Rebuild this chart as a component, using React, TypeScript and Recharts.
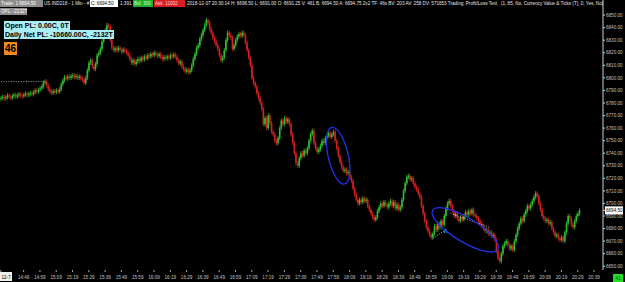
import React from 'react';
import { ComposedChart, Bar, XAxis, YAxis, ReferenceLine, ReferenceDot } from 'recharts';

// 1 min bars, 14:35 -> 20:30, open of each bar = previous close
const firstOpen = 6783.5;
const close1435 = [
  6784, 6785, 6783.5, 6784.5, 6786, 6785, 6784, 6785.5, 6786.5, 6785, 6786, 6787, 6786,
  6785.5, 6786.5, 6787.5, 6786.5, 6787, 6788, 6787, 6788.5, 6790, 6789, 6790.5, 6791.5,
];
const close1500 = [
  6793, 6796, 6797, 6794, 6791, 6789, 6788, 6789.5, 6788.5, 6790, 6789, 6791, 6795, 6798, 6800.5,
  6799.5, 6801, 6800, 6801.5, 6802, 6800.5, 6801.5, 6800, 6801, 6799.5, 6798.5, 6796, 6800, 6806, 6812,
  6814, 6809, 6807, 6811, 6818, 6820, 6823, 6829, 6833, 6838, 6842, 6841, 6830, 6824, 6822,
  6823.5, 6822, 6824, 6822.5, 6821, 6822.5, 6821.5, 6820, 6818, 6815, 6812, 6814, 6811, 6813, 6815,
];
const close1600 = [
  6813.5, 6816, 6814.5, 6817, 6815.5, 6818, 6817, 6819, 6818, 6820, 6818.5, 6817.5, 6819, 6816.5, 6815,
  6816.5, 6815.5, 6817, 6816, 6818, 6817, 6818.5, 6817, 6814, 6811.5, 6813, 6809, 6807, 6805, 6806.5,
  6804.5, 6806, 6810, 6815, 6819, 6824, 6826, 6831, 6834, 6838, 6842, 6846, 6844, 6839, 6836,
  6832, 6829, 6826, 6823, 6818, 6814, 6816, 6822, 6830, 6836, 6834, 6832, 6823, 6826, 6830,
];
const close1700 = [
  6833, 6835, 6833.5, 6836, 6834, 6828, 6822, 6816, 6810, 6800, 6796, 6793, 6788, 6784, 6780,
  6775, 6763, 6768, 6760, 6770, 6764, 6757, 6755, 6750, 6748, 6752, 6760, 6766, 6763, 6768,
  6765, 6767, 6763, 6755, 6748, 6740, 6732, 6730, 6736, 6740, 6738, 6742, 6740, 6744, 6750,
  6755, 6758, 6748, 6744, 6741, 6743, 6746, 6750, 6748, 6752, 6754, 6756, 6753, 6755, 6757,
];
const close1800 = [
  6750, 6744, 6738, 6733, 6729, 6726, 6727, 6724, 6725, 6721, 6718, 6712, 6707, 6703, 6700,
  6703, 6701, 6704, 6702, 6703, 6698, 6695, 6692, 6689, 6687, 6689, 6694, 6697, 6700, 6698,
  6701, 6699, 6697, 6700, 6702, 6698, 6701, 6696, 6699, 6695, 6697, 6703, 6710, 6716, 6721,
  6722, 6719, 6720, 6716, 6713, 6711, 6708, 6705, 6698, 6692, 6686, 6681, 6678, 6675, 6673,
];
const close1900 = [
  6676, 6682, 6679, 6684, 6681, 6686, 6683, 6690, 6696, 6700, 6702, 6698, 6694, 6690, 6692,
  6688, 6686, 6689, 6687, 6690, 6693, 6691, 6694, 6692, 6695, 6691, 6690, 6688, 6686, 6684,
  6682, 6680, 6678, 6679, 6676, 6677, 6674, 6675, 6671, 6662, 6656, 6654, 6660, 6666, 6668,
  6670, 6667, 6664, 6666, 6663, 6670, 6675, 6680, 6684, 6688, 6686, 6691, 6694, 6698, 6696,
];
const close2000 = [
  6699, 6702, 6705, 6708, 6706, 6700, 6695, 6690, 6688, 6686, 6687, 6684, 6685, 6680, 6677,
  6674, 6675, 6672, 6671, 6673, 6670, 6677, 6684, 6690, 6688, 6683, 6681, 6686, 6690, 6692, 6694.5,
];
const closes = [...close1435, ...close1500, ...close1600, ...close1700, ...close1800, ...close1900, ...close2000];

const startMinute = 14 * 60 + 35;
const emptyMinutes = 14;
const dateLabel = '12-7';
const lastPrice = 6694.5;

const timeTicks = [
  '14:49', '14:59', '15:09', '15:19', '15:29', '15:39', '15:49', '15:59', '16:09', '16:19', '16:29', '16:39',
  '16:49', '16:59', '17:09', '17:19', '17:29', '17:39', '17:49', '17:59', '18:09', '18:19', '18:29', '18:39',
  '18:49', '18:59', '19:09', '19:19', '19:29', '19:39', '19:49', '19:59', '20:09', '20:19', '20:29', '20:39',
];
const priceTicks = [
  6650, 6660, 6670, 6680, 6690, 6700, 6710, 6720, 6730, 6740, 6750, 6760, 6770, 6780, 6790, 6800,
  6810, 6820, 6830, 6840, 6850,
];

// annotations (time, price)
const prevLine = [{ x: '14:35', y: 6797 }, { x: '15:02', y: 6797 }];
const tradeLine1 = [{ x: '19:00', y: 6672 }, { x: '19:08', y: 6679 }];
const tradeLine2 = [{ x: '19:11', y: 6692 }, { x: '19:35', y: 6681 }];
const circle1 = { x: '18:02', y: 6738 };
const circle2 = { x: '19:20', y: 6679 };
const fillMark = { x: '19:08', y: 6678 };

const toTime = (m: number) => `${Math.floor(m / 60)}:${String(m % 60).padStart(2, '0')}`;

const data = [];
for (let i = 0; i < closes.length + emptyMinutes; i++) {
  const time = toTime(startMinute + i);
  if (i < closes.length) {
    data.push({ time, o: i === 0 ? firstOpen : closes[i - 1], c: closes[i] });
  } else {
    data.push({ time, o: null, c: null });
  }
}

const small = { fontFamily: 'Liberation Sans, Arial, sans-serif', fontSize: 4.6 };

const Candle = (props: any) => {
  const { x, y, width, height, payload } = props;
  if (!payload || payload.c == null) return null;
  const cx = x + width / 2;
  const col = payload.c >= payload.o ? '#2fc02f' : '#d42121';
  const top = height < 0 ? y + height : y;
  const h = Math.max(1, Math.abs(height));
  return (
    <g>
      <line x1={cx} x2={cx} y1={top - 2.2} y2={top + h + 2.2} stroke={col} strokeWidth={0.8} />
      <rect x={cx - 0.8} y={top} width={1.6} height={h} fill={col} />
    </g>
  );
};

const PriceTick = (props: any) => {
  const { x, y, payload } = props;
  if (payload.value === lastPrice) {
    return (
      <g>
        <rect x={x - 1} y={y - 4} width={18} height={8} fill="#ffffff" />
        <text x={x} y={y + 1.7} fill="#000" style={small}>{payload.value.toFixed(2)}</text>
      </g>
    );
  }
  return <text x={x} y={y + 1.7} fill="#c4c4c4" style={small}>{payload.value.toFixed(2)}</text>;
};

const TimeTick = (props: any) => {
  const { x, y, payload } = props;
  if (payload.value === data[0].time) {
    return (
      <g>
        <rect x={0} y={y - 2} width={12} height={9} fill="#f0f0f0" />
        <text x={1.5} y={y + 4.5} fill="#000" style={small}>{dateLabel}</text>
      </g>
    );
  }
  return <text x={x} y={y + 4.5} fill="#c4c4c4" textAnchor="middle" style={small}>{payload.value}</text>;
};

const box = (left: number, top: number, bg: string, color: string, text: string, width?: number) => (
  <div
    style={{
      position: 'absolute', left, top, height: 7, width, background: bg, color, fontSize: 4.6,
      lineHeight: '7px', whiteSpace: 'nowrap', padding: '0 1px', fontFamily: 'Liberation Sans, Arial, sans-serif',
    }}
  >
    {text}
  </div>
);

export default function App() {
  return (
    <div style={{ position: 'absolute', left: 0, top: 0, width: 625, height: 282, background: '#000', overflow: 'hidden' }}>
      <ComposedChart width={625} height={282} data={data} margin={{ top: 0, right: 0, bottom: 0, left: 0 }} barCategoryGap={0}>
        <XAxis
          dataKey="time"
          height={12}
          ticks={[data[0].time, ...timeTicks]}
          interval={0}
          axisLine={false}
          tickLine={{ stroke: '#aaaaaa' }}
          tickSize={2}
          tick={<TimeTick />}
        />
        <YAxis
          orientation="right"
          width={22}
          type="number"
          domain={[6647, 6862]}
          allowDataOverflow
          ticks={[...priceTicks, lastPrice]}
          interval={0}
          axisLine={{ stroke: '#d0d0d0' }}
          tickLine={{ stroke: '#d0d0d0' }}
          tickSize={2}
          tickMargin={1}
          tick={<PriceTick />}
        />
        <Bar
          dataKey={(d: any) => (d.c == null ? null : [Math.min(d.o, d.c), Math.max(d.o, d.c)])}
          shape={<Candle />}
          isAnimationActive={false}
        />
        <ReferenceLine segment={prevLine} stroke="#cfcfcf" strokeDasharray="1 1.5" strokeWidth={0.8} />
        <ReferenceLine segment={tradeLine1} stroke="#e8e8e8" strokeDasharray="1 1.5" strokeWidth={0.8} />
        <ReferenceLine segment={tradeLine2} stroke="#e8e8e8" strokeDasharray="1 1.5" strokeWidth={0.8} />
        <ReferenceDot
          x={fillMark.x}
          y={fillMark.y}
          r={2}
          ifOverflow="visible"
          shape={(p: any) => <path d={`M${p.cx - 1.5},${p.cy + 2} L${p.cx},${p.cy - 2} L${p.cx + 1.5},${p.cy + 2}`} stroke="#40e0f0" fill="none" strokeWidth={0.9} />}
        />
        <ReferenceDot
          x={circle1.x}
          y={circle1.y}
          r={2}
          ifOverflow="visible"
          shape={(p: any) => (
            <ellipse cx={p.cx} cy={p.cy} rx={10} ry={29} fill="none" stroke="#2430e6" strokeWidth={1.3} transform={`rotate(-13 ${p.cx} ${p.cy})`} />
          )}
        />
        <ReferenceDot
          x={circle2.x}
          y={circle2.y}
          r={2}
          ifOverflow="visible"
          shape={(p: any) => (
            <ellipse cx={p.cx} cy={p.cy} rx={38} ry={12} fill="none" stroke="#2430e6" strokeWidth={1.3} transform={`rotate(31 ${p.cx} ${p.cy})`} />
          )}
        />
      </ComposedChart>

      {box(0, 0, '#8c8c8c', '#ffffff', 'Trade: 1 6694.50', 41)}
      <div style={{ position: 'absolute', left: 44, top: 0, color: '#e6e6e6', fontSize: 4.6, lineHeight: '7px', whiteSpace: 'nowrap', fontFamily: 'Liberation Sans, Arial, sans-serif' }}>
        US.IND218 - 1 Min - #1
      </div>
      {box(90, 0, '#ffffff', '#000000', 'C: 6694.50', 26)}
      <div style={{ position: 'absolute', left: 120, top: 0, color: '#e6e6e6', fontSize: 4.6, lineHeight: '7px', fontFamily: 'Liberation Sans, Arial, sans-serif' }}>1:391</div>
      {box(133, 0, '#1fae2a', '#d8ffd8', 'Bid: 300', 18)}
      {box(154, 0, '#d81e1e', '#ffd6d6', 'Ask: 11002', 29)}
      <div style={{ position: 'absolute', left: 187, top: 0, width: 416, overflow: 'hidden', color: '#e6e6e6', fontSize: 4.6, lineHeight: '7px', whiteSpace: 'nowrap', fontFamily: 'Liberation Sans, Arial, sans-serif' }}>
        2018-12-07 20:30:14 H: 6696.50 L: 6691.00 O: 6691.25 V: 461 B: 6694.50 A: 6694.75 2x2 TF: 46s BV: 203 AV: 258 DV: 571653 Trading: Profit/Loss Text &nbsp;&nbsp;(1, 85, No, Currency Value &amp; Ticks (T), 0, Yes, No)
      </div>
      {box(0, 8, '#8c8c8c', '#ffffff', 'OPL: -2132T', 25)}

      <div style={{ position: 'absolute', left: 4, top: 21, background: '#a9eef5', color: '#000', fontWeight: 'bold', fontSize: 7, lineHeight: '9px', padding: '0 1px', whiteSpace: 'nowrap', fontFamily: 'Liberation Sans, Arial, sans-serif' }}>
        Open PL: 0.00C, 0T
      </div>
      <div style={{ position: 'absolute', left: 4, top: 30, background: '#a9eef5', color: '#000', fontWeight: 'bold', fontSize: 7, lineHeight: '9px', padding: '0 1px', whiteSpace: 'nowrap', fontFamily: 'Liberation Sans, Arial, sans-serif' }}>
        Daily Net PL: -10660.00C, -2132T
      </div>
      <div style={{ position: 'absolute', left: 4, top: 42, width: 13, height: 13, background: '#f08a1c', color: '#000', fontWeight: 'bold', fontSize: 10, lineHeight: '13px', textAlign: 'center', fontFamily: 'Liberation Sans, Arial, sans-serif' }}>
        46
      </div>
      <div style={{ position: 'absolute', left: 613, top: 274, width: 10, height: 8, background: '#22dd22', color: '#064', fontSize: 5, lineHeight: '8px', textAlign: 'center', fontFamily: 'Liberation Sans, Arial, sans-serif' }}>
        41
      </div>
    </div>
  );
}
